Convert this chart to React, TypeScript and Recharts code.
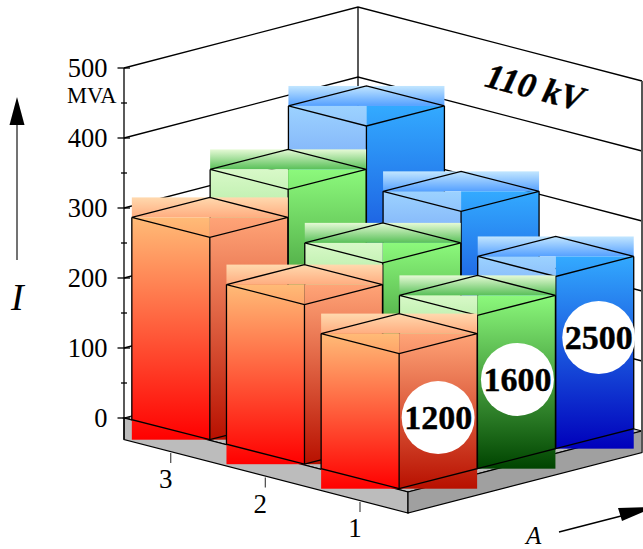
import { Bar, ComposedChart, XAxis, YAxis } from "recharts";

const rowLabels = ["1", "2", "3"];
const ratings = [1200, 1600, 2500];
const values1200 = [193, 228, 289];
const values1600 = [219, 259, 329];
const values2500 = [246, 304, 391];
const yTicks = [0, 50, 100, 150, 200, 250, 300, 350, 400, 450, 500];
const wallValues = [100, 200, 300, 400, 500];

const seriesValues = [values1200, values1600, values2500];

// screen steps of the fake 3d grid
const COL_DX = 78.3;
const ROW_DX = 94.65;
const COL_LIFT = 28.6; // MVA
const ROW_LIFT = 35; // MVA
const FRONT_BASE = -101; // MVA

const W = 643;
const H = 549;
const PX = 0.7; // pixels per MVA
const Y0 = 418;
const SERIF = "'Liberation Serif', serif";

const palette = [
  { id: "o", topA: "#ffd9ae", topB: "#ffad80", leftA: "#ffbb77", leftB: "#ff0000", rightA: "#ffa477", rightB: "#b81000" },
  { id: "g", topA: "#e6fad6", topB: "#58c058", leftA: "#d8f9c8", leftB: "#28b619", rightA: "#8cf97c", rightB: "#004400" },
  { id: "b", topA: "#c2e6ff", topB: "#55a0ff", leftA: "#9cd2ff", leftB: "#1030e0", rightA: "#33aaff", rightB: "#0000bb" },
];

const badgeOffset: Record<number, [number, number]> = {
  1200: [39, 64],
  1600: [40, 64],
  2500: [43, 61],
};

// back row first so the front bars paint over
const data: { key: string; col: number; row: number; lateral: number; range: [number, number] }[] = [];
for (let row = 2; row >= 0; row--) {
  for (let col = 2; col >= 0; col--) {
    const base = FRONT_BASE + ROW_LIFT * row + COL_LIFT * col;
    data.push({
      key: `${ratings[col]}-${rowLabels[row]}`,
      col,
      row,
      lateral: col * COL_DX - row * ROW_DX,
      range: [base, base + seriesValues[col][row]],
    });
  }
}

const grad = (id: string, a: string, b: string) => (
  <linearGradient id={id} key={id} x1="0" y1="0" x2="0" y2="1">
    <stop offset="0%" stopColor={a} />
    <stop offset="100%" stopColor={b} />
  </linearGradient>
);

const Box = (props: any) => {
  const { x, y, width, height, payload } = props;
  const cx = x + width / 2;
  const half = 78;
  const rise = 20;
  const bottom = y + height;
  const id = palette[payload.col].id;
  const rating = ratings[payload.col];
  const off = badgeOffset[rating];
  const edge = { stroke: "#000", strokeWidth: 1.3, fill: "none" };
  return (
    <g>
      <rect x={cx - half} y={y - rise * 2} width={half * 2} height={rise} fill={`url(#${id}Top)`} />
      <rect x={cx - half} y={y - rise} width={half} height={height + rise} fill={`url(#${id}Left)`} />
      <rect x={cx} y={y - rise} width={half} height={height + rise} fill={`url(#${id}Right)`} />
      <polygon
        points={`${cx - half},${y - rise} ${cx},${y} ${cx + half},${y - rise} ${cx},${y - rise * 2}`}
        {...edge}
      />
      <polyline
        points={`${cx - half},${y - rise} ${cx - half},${bottom - rise} ${cx},${bottom} ${cx + half},${bottom - rise} ${cx + half},${y - rise}`}
        {...edge}
      />
      <line x1={cx} y1={y} x2={cx} y2={bottom} {...edge} />
      {payload.row === 0 && (
        <g>
          <circle cx={cx + off[0]} cy={y + off[1]} r={36.5} fill="#fff" />
          <text
            x={cx + off[0]}
            y={y + off[1] + 11.5}
            textAnchor="middle"
            fontFamily={SERIF}
            fontWeight="bold"
            fontSize={34}
            stroke="#000"
            strokeWidth={0.4}
            fill="#000"
          >
            {rating}
          </text>
        </g>
      )}
    </g>
  );
};

const YTick = (props: any) => {
  const { y, payload } = props;
  const major = payload.value % 100 === 0;
  return (
    <g>
      <line x1={major ? 117.5 : 121} y1={y} x2={major ? 130 : 127} y2={y} stroke="#000" strokeWidth={1.3} />
      {major && (
        <text x={107.5} y={y + 9} textAnchor="end" fontFamily={SERIF} fontSize={26.5} fill="#000">
          {payload.value}
        </text>
      )}
    </g>
  );
};

// walls, floor and the hand-placed captions
const Frame = () => {
  const lv = (v: number) => Y0 - v * PX;
  const line = { stroke: "#000", strokeWidth: 1.3 };
  return (
    <g>
      <defs>
        {palette.flatMap((p) => [
          grad(`${p.id}Top`, p.topA, p.topB),
          grad(`${p.id}Left`, p.leftA, p.leftB),
          grad(`${p.id}Right`, p.rightA, p.rightB),
        ])}
      </defs>
      <polygon points="124,418 358,357 642,431 408,492" fill="#bcbcbc" stroke="#000" strokeWidth={1.2} />
      <polygon points="124,418 408,492 408,513 124,439.5" fill="#bcbcbc" stroke="#000" strokeWidth={1.2} />
      <polygon points="408,492 642,431 642,452.5 408,513" fill="#a0a0a0" stroke="#000" strokeWidth={1.2} />
      {wallValues.map((v) => (
        <polyline
          key={v}
          points={`124,${lv(v)} 358,${lv(v) - 61} 642,${lv(v) + 13}`}
          fill="none"
          {...line}
        />
      ))}
      <line x1={124} y1={68} x2={124} y2={439.5} {...line} />
      <line x1={358} y1={7} x2={358} y2={357} {...line} />
      <line x1={642} y1={81} x2={642} y2={452} stroke="#555" strokeWidth={2} />

      <line x1={17} y1={260} x2={17} y2={120} stroke="#444" strokeWidth={1.5} />
      <polygon points="17,97 9.5,125 24.5,125" fill="#000" />
      <text x={11} y={310} fontFamily={SERIF} fontStyle="italic" fontSize={38} fill="#000">
        I
      </text>
      <text x={67} y={103} fontFamily={SERIF} fontSize={22.5} fill="#000">
        MVA
      </text>
      <text
        x={535}
        y={99}
        textAnchor="middle"
        transform="rotate(14.6 535 87)"
        fontFamily={SERIF}
        fontWeight="bold"
        fontStyle="italic"
        fontSize={35}
        stroke="#000"
        strokeWidth={0.4}
        fill="#000"
      >
        110 kV
      </text>

      {rowLabels.map((label, i) => {
        const tx = 360 - i * ROW_DX;
        const ty = 512 - i * 24.5;
        return (
          <g key={label}>
            <line x1={tx} y1={ty - 10} x2={tx} y2={ty} stroke="#555" strokeWidth={1.3} />
            <text x={tx - 5} y={ty + 25} textAnchor="middle" fontFamily={SERIF} fontSize={27} fill="#000">
              {label}
            </text>
          </g>
        );
      })}

      <text x={526} y={543.5} fontFamily={SERIF} fontStyle="italic" fontSize={25} fill="#000">
        A
      </text>
      <line x1={559} y1={532} x2={625} y2={515} stroke="#000" strokeWidth={1.3} />
      <polygon points="618,508 622,521 655,507" fill="#000" />
    </g>
  );
};

export default function App() {
  return (
    <div style={{ position: "absolute", left: 0, top: 0, width: W, height: H, background: "#fff" }}>
      <ComposedChart width={W} height={H} data={data} margin={{ top: 5, right: 0, bottom: 33, left: 0 }}>
        <Frame />
        <XAxis type="number" dataKey="lateral" domain={[-275.3, 243.7]} hide />
        <YAxis
          type="number"
          width={124}
          domain={[-140, 590]}
          ticks={yTicks}
          interval={0}
          axisLine={false}
          tickLine={false}
          tick={<YTick />}
        />
        <Bar dataKey="range" barSize={4} shape={<Box />} isAnimationActive={false} />
      </ComposedChart>
    </div>
  );
}
